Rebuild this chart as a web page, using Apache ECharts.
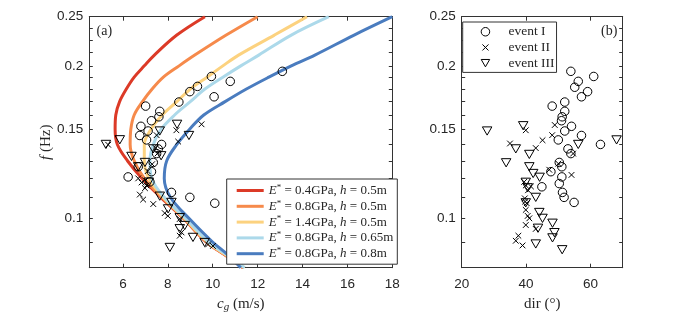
<!DOCTYPE html>
<html><head><meta charset="utf-8">
<script src="https://cdn.jsdelivr.net/npm/echarts@6/dist/echarts.min.js"></script>
<style>html,body{margin:0;padding:0;background:#fff}#c{width:689px;height:316px}</style>
</head><body><div id="c"></div>
<script>
// ---------- data ----------
const fGrid = [0.25,0.23,0.21,0.2,0.19,0.18,0.17,0.16,0.15,0.14,0.13,0.12,0.11,0.1,0.09,0.085,0.08];
const cgE04h05  = [9.65,8.4,7.4,6.95,6.5,6.15,5.85,5.68,5.65,5.75,6.2,6.85,7.7,8.7,9.7,10.5,11.35];
const cgE08h05  = [12.0,10.6,9.2,8.5,7.8,7.3,6.87,6.5,6.35,6.32,6.5,6.95,7.75,8.72,9.72,10.52,11.37];
const cgE14h05  = [14.2,12.75,11.15,10.45,9.75,9.0,8.4,7.75,7.25,6.95,6.95,7.15,7.8,8.75,9.75,10.55,11.42];
const cgE08h065 = [15.17,13.5,12.05,11.25,10.45,9.65,9.0,8.3,7.7,7.35,7.2,7.28,7.85,8.8,9.8,10.6,11.42];
const cgE08h08  = [18.0,16.3,14.55,13.5,12.5,11.5,10.55,9.6,8.97,8.4,7.95,7.84,8.12,8.95,9.98,10.65,11.25];
const lineLabels = [['0.4GPa','0.5m'],['0.8GPa','0.5m'],['1.4GPa','0.5m'],['0.8GPa','0.65m'],['0.8GPa','0.8m']];

// panel (a): group velocity vs frequency
const aCgI = [13.1,9.94,10.78,9.32,8.98,10.06,8.49,7.01,7.64,7.6,7.27,6.8,7.12,6.75,7.05,7.72,7.57,7.5,7.35,6.68,7.27,6.23,7.2,8.16,8.98,10.09];
const aFI  = [0.1951,0.1906,0.1864,0.1822,0.1779,0.1738,0.1697,0.1666,0.1627,0.1587,0.1559,0.152,0.1488,0.1458,0.1429,0.14,0.1372,0.1343,0.129,0.1265,0.1237,0.1208,0.1181,0.1126,0.1101,0.1072];
const aCgII = [9.5,8.38,8.46,7.5,5.34,7.45,7.55,7.3,7.1,6.68,6.83,6.98,6.75,6.9,7.35,7.86,8.0,8.53,8.61,8.53,9.79,10.01,6.98,7.05];
const aFII  = [0.1534,0.1493,0.1418,0.146,0.1398,0.1378,0.1345,0.128,0.124,0.12,0.1178,0.1148,0.1115,0.109,0.1068,0.1025,0.1012,0.0998,0.0939,0.0925,0.0889,0.0883,0.119,0.1162];
const aCgIII = [5.24,5.86,6.38,7.64,8.41,8.94,7.35,7.7,6.98,6.68,7.15,7.64,8.16,8.01,8.53,8.75,8.53,9.12,9.64,8.09];
const aFIII  = [0.14,0.143,0.1326,0.1488,0.1534,0.1458,0.1372,0.133,0.129,0.1265,0.118,0.1107,0.1076,0.1045,0.1004,0.0969,0.0955,0.0918,0.0897,0.0877];

// panel (b): direction vs frequency
const bDirI = [53.9,61.0,56.2,55.1,59.1,57.2,52.0,48.1,52.0,51.2,51.0,54.1,52.0,57.2,50.0,63.1,53.0,53.9,50.3,51.1,47.7,51.1,50.3,44.9,51.3,51.8,54.9];
const bFI   = [0.1951,0.1906,0.1864,0.1815,0.1779,0.1738,0.1697,0.1666,0.1627,0.1587,0.1559,0.152,0.1488,0.1458,0.1429,0.14,0.1372,0.1343,0.129,0.1265,0.1237,0.1208,0.1172,0.1155,0.1126,0.1101,0.1076];
const bDirII = [48.9,39.9,48.1,45.1,35.0,43.0,54.6,50.0,47.2,54.1,41.5,39.4,39.9,40.6,39.6,40.2,39.7,39.9,40.5,41.0,39.9,43.0,37.6,36.8,38.9];
const bFII   = [0.1529,0.1493,0.146,0.1427,0.1406,0.1377,0.1343,0.1283,0.1248,0.1219,0.1157,0.1181,0.1162,0.1137,0.1096,0.1072,0.108,0.104,0.1012,0.1001,0.0971,0.0954,0.0925,0.0904,0.0885];
const bDirIII = [39.1,27.9,68.1,56.2,36.8,41.0,33.8,41.0,42.2,44.2,39.9,40.5,43.0,39.9,44.1,45.1,48.2,43.7,48.8,48.2,43.0,51.2];
const bFIII   = [0.1524,0.1488,0.1429,0.14,0.1372,0.1338,0.1288,0.1265,0.1227,0.1206,0.1179,0.115,0.1101,0.1074,0.1028,0.1001,0.0979,0.0957,0.0938,0.0916,0.0891,0.0868];

const eventNames = ['event I','event II','event III'];
const yMajor = [0.1,0.15,0.2,0.25];
const yMinor = [0.09,0.11,0.12,0.13,0.14,0.16,0.17,0.18,0.19,0.2125,0.225,0.2375];
const xTicksA = [6,8,10,12,14,16,18];
const xTicksB = [20,40,60];

// ---------- styling ----------
const lineColors = ['#dc3a27','#f68a4b','#fcd27f','#acd9ea','#4a7cbf'];
const axisColor = '#333';
const txtColor = '#262626';
const sans = 'Liberation Sans';
const serif = 'Liberation Serif';
const crossPath = 'path://M-2,-2M0,0L10,10M10,0L0,10M12,12';
const triDownPath = 'path://M0,-0.67M0,0L10,0L5,8.66ZM10,9.33';

const zip = (xs, ys) => xs.map((x, i) => [x, ys[i]]);

function xAxisPair(grid, min, max, ticks, name) {
  const base = {
    gridIndex: grid, type: 'value', min: min, max: max, splitLine: {show: false},
    axisLine: {show: true, onZero: false, lineStyle: {color: axisColor, width: 1}},
    axisTick: {show: true, inside: true, length: 4, customValues: ticks, lineStyle: {color: axisColor}}
  };
  return [
    Object.assign({}, base, {
      position: 'bottom',
      axisLabel: {show: true, customValues: ticks, margin: 10, color: txtColor, fontFamily: sans, fontSize: 13.5},
      name: name, nameLocation: 'middle', nameGap: 25,
      nameTextStyle: {color: txtColor, fontFamily: serif, fontSize: 15,
        rich: {i: {fontFamily: serif, fontStyle: 'italic', fontSize: 15, lineHeight: 18},
               s: {fontFamily: serif, fontStyle: 'italic', fontSize: 11, lineHeight: 9, verticalAlign: 'bottom'},
               t: {fontFamily: serif, fontSize: 15, lineHeight: 18}}}
    }),
    Object.assign({}, base, {position: 'top', axisLabel: {show: false}})
  ];
}
function yAxisPair(grid, name) {
  const allTicks = yMajor.concat(yMinor);
  const base = {
    gridIndex: grid, type: 'log', logBase: 10, min: 0.08, max: 0.25, splitLine: {show: false},
    axisLine: {show: true, onZero: false, lineStyle: {color: axisColor, width: 1}},
    axisTick: {show: true, inside: true, length: 3.5, customValues: allTicks, lineStyle: {color: axisColor}},
    minorTick: {show: false}
  };
  const left = Object.assign({}, base, {
    position: 'left',
    axisLabel: {show: true, customValues: yMajor, margin: 6, color: txtColor, fontFamily: sans, fontSize: 13.5}
  });
  if (name) {
    Object.assign(left, {name: name, nameLocation: 'middle', nameGap: 30, nameRotate: 90,
      nameTextStyle: {color: txtColor, fontFamily: serif, fontSize: 15,
        rich: {i: {fontFamily: serif, fontStyle: 'italic', fontSize: 15}, t: {fontFamily: serif, fontSize: 15}}}});
  }
  return [left, Object.assign({}, base, {position: 'right', axisLabel: {show: false}})];
}

const curveData = [cgE04h05, cgE08h05, cgE14h05, cgE08h065, cgE08h08];
const lineNames = lineLabels.map(l => 'E* = ' + l[0] + ', h = ' + l[1]);

const series = [];
curveData.forEach((cg, k) => {
  series.push({
    name: lineNames[k], type: 'line', xAxisIndex: 0, yAxisIndex: 0,
    data: zip(cg, fGrid), smooth: 0.35, symbol: 'none', showSymbol: false, clip: true,
    lineStyle: {color: lineColors[k], width: 3}, itemStyle: {color: lineColors[k]},
    emphasis: {disabled: true}, z: 2
  });
});

const markerStyles = [
  {symbol: 'circle', symbolSize: 8.5},
  {symbol: crossPath, symbolSize: 8},
  {symbol: triDownPath, symbolSize: 9.5}
];
const aSets = [zip(aCgI, aFI), zip(aCgII, aFII), zip(aCgIII, aFIII)];
const bSets = [zip(bDirI, bFI), zip(bDirII, bFII), zip(bDirIII, bFIII)];
[aSets, bSets].forEach((sets, panel) => {
  sets.forEach((d, k) => {
    const m = markerStyles[k];
    series.push({
      name: panel === 1 ? eventNames[k] : 'a ' + eventNames[k],
      type: 'scatter', xAxisIndex: panel * 2, yAxisIndex: panel * 2, data: d,
      symbol: m.symbol, symbolSize: m.symbolSize, symbolKeepAspect: true,
      itemStyle: {color: 'rgba(0,0,0,0)', borderColor: '#000', borderWidth: 1, opacity: 1},
      emphasis: {disabled: true}, z: 3
    });
  });
});

const option = {
  animation: false,
  backgroundColor: '#fff',
  title: [
    {text: '(a)', left: 91.5, top: 19, textStyle: {fontFamily: serif, fontSize: 14, fontWeight: 'normal', color: txtColor}},
    {text: '(b)', left: 596, top: 19, textStyle: {fontFamily: serif, fontSize: 14, fontWeight: 'normal', color: txtColor}}
  ],
  grid: [
    {left: 89.3, top: 16.7, width: 303, height: 251, containLabel: false, outerBoundsMode: 'none'},
    {left: 461.7, top: 16.7, width: 161, height: 251, containLabel: false, outerBoundsMode: 'none'}
  ],
  xAxis: [].concat(
    xAxisPair(0, 4.5, 18, xTicksA, '{i|c}{s|g}{t| (m/s)}'),
    xAxisPair(1, 20, 70, xTicksB, '{t|dir (°)}')
  ),
  yAxis: [].concat(yAxisPair(0, '{i|f}{t| (Hz)}'), yAxisPair(1, null)),
  legend: [
    {
      data: lineNames.map((n, k) => ({name: n, icon: 'rect', itemStyle: {color: lineColors[k]}})),
      orient: 'vertical', left: 226.7, top: 179,
      itemWidth: 27, itemHeight: 3, itemGap: 0.8, padding: [4, 4, 3, 10],
      backgroundColor: '#fff', borderColor: axisColor, borderWidth: 1, borderRadius: 0,
      selectedMode: false,
      formatter: function (name) {
        const k = lineNames.indexOf(name);
        return '{i|E}{s|*}{t| = ' + lineLabels[k][0] + ', }{i|h}{t| = ' + lineLabels[k][1] + '}';
      },
      textStyle: {color: txtColor, fontFamily: serif, fontSize: 13, lineHeight: 15,
        rich: {i: {fontFamily: serif, fontStyle: 'italic', fontSize: 13, lineHeight: 15, color: txtColor},
               s: {fontFamily: serif, fontSize: 9, lineHeight: 9, verticalAlign: 'top', color: txtColor},
               t: {fontFamily: serif, fontSize: 13, lineHeight: 15, color: txtColor}}}
    },
    {
      data: eventNames, orient: 'vertical', left: 462.7, top: 22,
      itemWidth: 36, itemHeight: 8.5, itemGap: 1.2, padding: [2.5, 2, 2, 18],
      symbolKeepAspect: true,
      itemStyle: {color: 'rgba(0,0,0,0)', borderColor: '#000', borderWidth: 1},
      backgroundColor: '#fff', borderColor: axisColor, borderWidth: 1, borderRadius: 0,
      selectedMode: false,
      textStyle: {color: txtColor, fontFamily: serif, fontSize: 13.5, lineHeight: 14.5}
    }
  ],
  series: series
};
const chart = echarts.init(document.getElementById('c'), null, {renderer: 'canvas'});
chart.setOption(option);
</script></body></html>
